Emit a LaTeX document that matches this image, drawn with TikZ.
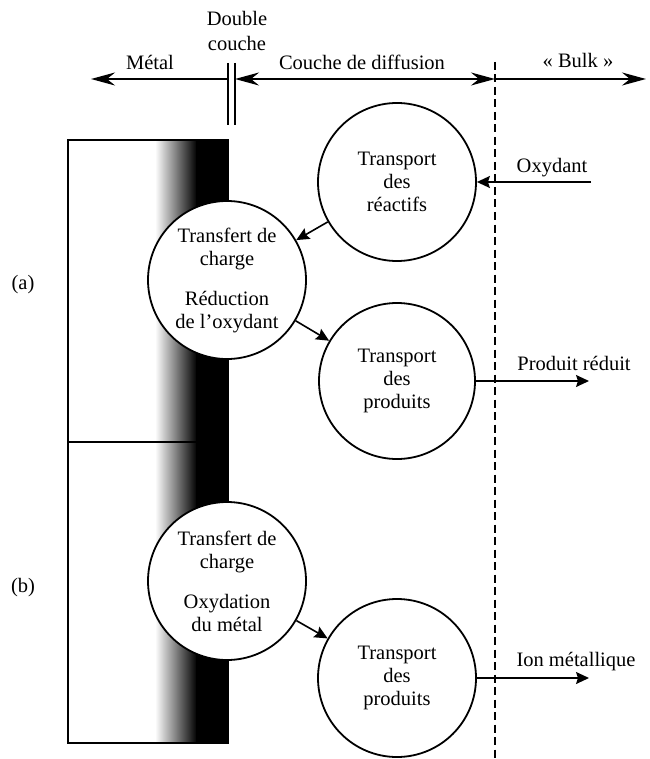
\documentclass[tikz,border=0pt]{standalone}
\usepackage{fontspec}
\setmainfont{Liberation Serif}
\usetikzlibrary{arrows.meta}
\begin{document}
\begin{tikzpicture}[x=1pt,y=-1pt,
  every node/.style={font=\fontsize{20.5}{23}\selectfont, inner sep=0pt, align=center},
  bubble/.style={circle, draw, line width=1.8pt, fill=white, minimum size=158pt},
  bigtip/.style={-{Stealth[length=24pt,width=13pt,inset=8pt]}},
  smalltip/.style={-{Stealth[length=13pt,width=12pt,inset=2pt]}},
  hline/.style={line width=1.8pt},
  conn/.style={line width=1.6pt, smalltip}]
\useasboundingbox (0,0) rectangle (649,759);
% metal region
\shade[left color=white, right color=black] (155,140) rectangle (197,743);
\fill[black] (196,140) rectangle (228,743);
\draw[line width=2.2pt] (68,140) rectangle (228,743);
\draw[line width=2.2pt] (68,442) -- (228,442);
% header
\node (metal) at (150,62) {Métal};
\node (dc) at (237,31) {Double\\[2pt]couche};
\node (cdd) at (362,62) {Couche de diffusion};
\node (bulk) at (578,60) {« Bulk »};
\coordinate (dlA) at (227.5,63);
\coordinate (dlAb) at (227.5,125);
\coordinate (dlB) at (234.5,63);
\coordinate (dlBb) at (234.5,125);
\draw[line width=2pt] (dlA) -- (dlAb);
\draw[line width=2pt] (dlB) -- (dlBb);
\coordinate (hL) at (227,79);
\coordinate (hLtip) at (91,79);
\coordinate (hM) at (235,79);
\coordinate (hD) at (495,79);
\coordinate (hR) at (646,79);
\draw[hline, bigtip] (hL) -- (hLtip);
\draw[hline, {Stealth[length=24pt,width=13pt,inset=8pt]}-{Stealth[length=24pt,width=13pt,inset=8pt]}] (hM) -- (hD);
\draw[hline, bigtip] (hD) -- (hR);
% dashed boundary
\coordinate (dsT) at (495,62);
\coordinate (dsB) at (495,759);
\draw[line width=1.5pt, dash pattern=on 8pt off 4.5pt] (dsT) -- (dsB);
% labels
\node (la) at (23,285) {(a)};
\node (lb) at (23,588) {(b)};
% bubbles
\node[bubble] (c1) at (397,182) {Transport\\des\\réactifs};
\node[bubble] (c2) at (227,280) {Transfert de\\charge\\[17pt]Réduction\\de l’oxydant};
\node[bubble, minimum size=156pt] (c3) at (397,381) {Transport\\des\\produits};
\node[bubble] (c4) at (227,581) {Transfert de\\charge\\[17pt]Oxydation\\du métal};
\node[bubble] (c5) at (397,678) {Transport\\des\\produits};
% connectors
\coordinate (oxs) at (591,182);
\node (ox) at (552,168) {Oxydant};
\draw[conn] (oxs) -- (c1);
\draw[conn] (c1) -- (c2);
\draw[conn] (c2) -- (c3);
\coordinate (pr) at (589,381);
\node (prt) at (574,363) {Produit réduit};
\draw[conn] (c3) -- (pr);
\draw[conn] (c4) -- (c5);
\coordinate (im) at (589,678);
\node (imt) at (576,662) {Ion métallique};
\draw[conn] (c5) -- (im);
\end{tikzpicture}
\end{document}
